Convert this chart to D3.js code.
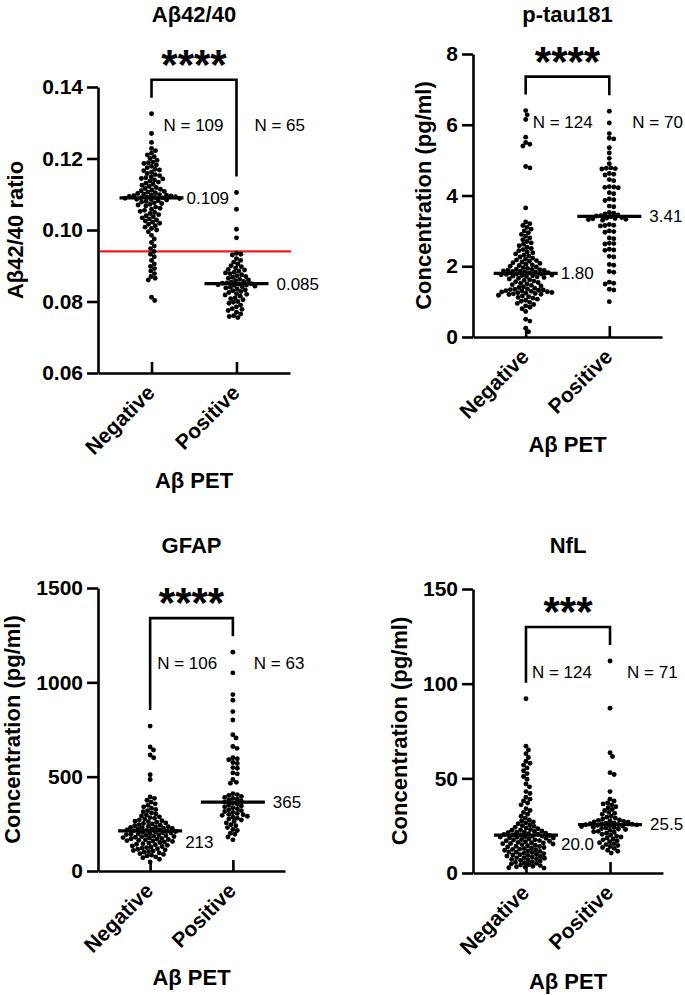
<!DOCTYPE html>
<html>
<head>
<meta charset="utf-8">
<script src="https://cdn.jsdelivr.net/npm/d3@7"></script>
<style>
  body { margin: 0; background: #fff; }
  text { font-family: "Liberation Sans", Arial, sans-serif; }
</style>
</head>
<body>
<svg id="main" width="685" height="995"></svg>
<script>
const categories = ["Negative", "Positive"];

// Aβ42/40 ratio
const abNeg = [0.1325, 0.127, 0.1245, 0.1228, 0.1222, 0.1215, 0.121, 0.1205, 0.12, 0.1195,
  0.119, 0.1188, 0.1186, 0.1182, 0.1178, 0.1174, 0.117, 0.1168, 0.1166, 0.1162,
  0.1158, 0.1155, 0.1152, 0.1149, 0.1146, 0.1144, 0.1143, 0.114, 0.1137, 0.1134,
  0.1131, 0.1128, 0.1125, 0.1122, 0.1119, 0.1116, 0.1114, 0.1112, 0.111, 0.1108,
  0.1106, 0.1104, 0.1102, 0.11, 0.1099, 0.1098, 0.1097, 0.1096, 0.1095, 0.1094,
  0.1093, 0.1092, 0.1091, 0.10905, 0.109,
  0.1089, 0.1088, 0.1086, 0.1085, 0.1084, 0.1082, 0.108, 0.1078, 0.1076, 0.1074,
  0.1072, 0.107, 0.1067, 0.1064, 0.1061, 0.1058, 0.1055, 0.1052, 0.1049, 0.1046,
  0.1043, 0.104, 0.1037, 0.1034, 0.1031, 0.1028, 0.1025, 0.1022, 0.1019, 0.1016,
  0.1012, 0.1008, 0.1004, 0.1, 0.0995, 0.0985, 0.0975, 0.0965, 0.0955, 0.0948,
  0.094, 0.0932, 0.0925, 0.0915, 0.0905, 0.0898, 0.0892, 0.0885, 0.0878, 0.087,
  0.0865, 0.086, 0.0812, 0.0803];
const abPos = [0.1105, 0.1058, 0.1002, 0.0978, 0.0935, 0.0932, 0.093, 0.092, 0.0915, 0.091,
  0.0905, 0.09, 0.0897, 0.0894, 0.089, 0.0888, 0.0885, 0.0882, 0.088, 0.0878,
  0.0875, 0.0872, 0.087, 0.0868, 0.0865, 0.0862, 0.086, 0.0858, 0.0856, 0.0854,
  0.0852, 0.0851, 0.085,
  0.0849, 0.0847, 0.0846, 0.0845, 0.0843, 0.0841, 0.084, 0.0838, 0.0835, 0.0832,
  0.083, 0.0828, 0.0825, 0.0822, 0.082, 0.0818, 0.0815, 0.081, 0.0808, 0.0805,
  0.08, 0.0798, 0.0795, 0.079, 0.0785, 0.078, 0.0778, 0.0775, 0.077, 0.0765,
  0.076, 0.0758, 0.0755];

// p-tau181 (pg/ml)
const ptauNeg = [6.4, 6.28, 6.15, 5.65, 5.5, 5.45, 5.4, 4.82, 4.78, 3.65,
  3.25, 3.2, 3.15, 3.1, 3.05, 3.0, 2.95, 2.9, 2.85, 2.8,
  2.75, 2.7, 2.66, 2.62, 2.58, 2.54, 2.5, 2.47, 2.44, 2.41,
  2.38, 2.35, 2.32, 2.29, 2.26, 2.23, 2.2, 2.18, 2.16, 2.14,
  2.12, 2.1, 2.08, 2.06, 2.04, 2.02, 2.0, 1.98, 1.96, 1.94,
  1.92, 1.91, 1.9, 1.89, 1.88, 1.87, 1.86, 1.85, 1.84, 1.83,
  1.82, 1.81,
  1.79, 1.78, 1.77, 1.76, 1.75, 1.74, 1.73, 1.72, 1.71, 1.7,
  1.68, 1.66, 1.64, 1.62, 1.6, 1.58, 1.56, 1.54, 1.52, 1.5,
  1.48, 1.46, 1.44, 1.42, 1.4, 1.38, 1.36, 1.35, 1.34, 1.33,
  1.32, 1.31, 1.3, 1.29, 1.28, 1.27, 1.26, 1.25, 1.24, 1.23,
  1.22, 1.21, 1.2, 1.18, 1.16, 1.14, 1.12, 1.1, 1.07, 1.04,
  1.01, 0.98, 0.95, 0.92, 0.88, 0.84, 0.8, 0.72, 0.5, 0.45,
  0.25, 0.15];
const ptauPos = [6.38, 6.05, 5.75, 5.62, 5.6, 5.35, 5.2, 5.05, 4.9, 4.78,
  4.77, 4.76, 4.75, 4.62, 4.6, 4.58, 4.45, 4.42, 4.25, 4.24,
  4.23, 4.22, 4.08, 4.05, 3.9, 3.88, 3.86, 3.7, 3.68, 3.52,
  3.5, 3.48, 3.45, 3.43, 3.42,
  3.4, 3.38, 3.36, 3.35, 3.34, 3.33, 3.32, 3.3, 3.18, 3.16,
  3.15, 3.14, 3.0, 2.98, 2.96, 2.8, 2.78, 2.65, 2.64, 2.63,
  2.48, 2.46, 2.45, 2.28, 2.26, 2.05, 2.03, 1.85, 1.83, 1.55,
  1.52, 1.5, 1.35, 1.33, 1.0];

// GFAP (pg/ml)
const gfapNeg = [768, 657, 641, 615, 600, 510, 485, 392, 385, 375,
  365, 356, 348, 340, 333, 326, 320, 314, 308, 302,
  297, 292, 287, 283, 279, 275, 271, 267, 264, 261,
  258, 255, 252, 249, 246, 243, 240, 237, 235, 233,
  231, 229, 227, 225, 223, 221, 219, 217, 215, 213,
  211, 209, 207, 205, 203, 201, 199, 197, 195, 193,
  191, 189, 187, 185, 183, 181, 179, 177, 175, 173,
  171, 169, 167, 165, 163, 161, 159, 157, 154, 151,
  148, 145, 142, 139, 136, 133, 130, 127, 124, 121,
  118, 115, 112, 109, 106, 103, 100, 96, 92, 88,
  84, 80, 75, 70, 62, 48];
const gfapPos = [1160, 1050, 935, 905, 845, 800, 722, 705, 660, 650,
  600, 595, 590, 575, 570, 548, 545, 520, 515, 485,
  470, 465, 410, 405, 400, 395, 390, 385, 380, 375, 370,
  365,
  360, 355, 350, 345, 340, 335, 330, 325, 320, 315,
  310, 305, 300, 298, 295, 290, 285, 280, 275, 270,
  262, 255, 245, 240, 230, 220, 215, 200, 195, 180, 165];

// NfL (pg/ml)
const nflNeg = [92, 67, 65, 63, 61, 59, 58, 57, 55.5, 54,
  52.5, 51, 49.5, 47, 45.5, 43, 42, 40, 39, 38,
  37, 36, 34, 33, 32, 31, 30, 29, 28, 27.5,
  27, 26.5, 26, 25.5, 25, 24.6, 24.2, 23.8, 23.4, 23,
  22.8, 22.6, 22.2, 21.9, 21.6, 21.5, 21.3, 21, 20.7, 20.5,
  20.4, 20.2, 20.1, 19.8, 19.5, 19.5, 19.2, 19, 18.9, 18.6,
  18.5, 18.3, 18, 17.7, 17.5, 17.4, 17.1, 17, 16.8, 16.5,
  16.2, 16, 15.9, 15.6, 15.5, 15.3, 15, 14.7, 14.4, 14.1,
  14, 13.8, 13.5, 13.2, 12.9, 12.6, 12.5, 12.3, 12, 11.7,
  11.4, 11.1, 11, 10.8, 10.5, 10.2, 9.9, 9.6, 9.5, 9.3,
  9, 8.7, 8.4, 8.1, 8, 7.8, 7.5, 7.2, 6.9, 6.6,
  6.3, 6, 5.7, 5.4, 5.1, 4.8, 4.5, 4.2, 3.9, 3.6,
  3.3, 3, 2.8, 2.6];
const nflPos = [112, 87, 63.5, 61.5, 53, 52, 43, 39, 38, 37,
  36.5, 36, 35, 34.5, 33.5, 33, 32, 31.5, 31, 30,
  29.5, 29, 28.5, 28, 27.8, 27.5, 27.2, 27, 26.8, 26.5,
  26.3, 26.1, 26, 25.8, 25.6,
  25.5,
  25.4, 25.2, 25, 24.8, 24.5, 24.2, 24, 23.8, 23.5, 23.2,
  23, 22.5, 22, 21.8, 21.5, 21, 20.5, 20, 19.5, 19,
  18.5, 18, 17.5, 17, 16.5, 16, 15.5, 15, 14.5, 14,
  13.5, 13, 12, 11.5, 10.5];

const titles = ["Aβ42/40", "p-tau181", "GFAP", "NfL"];
const yLabels = ["Aβ42/40 ratio", "Concentration (pg/ml)", "Concentration (pg/ml)", "Concentration (pg/ml)"];
const xTitle = "Aβ PET";
const yDomains = [[0.06, 0.14], [0, 8], [0, 1500], [0, 150]];
const yTicks = [[0.06, 0.08, 0.10, 0.12, 0.14], [0, 2, 4, 6, 8], [0, 500, 1000, 1500], [0, 50, 100, 150]];
const tickFormats = [".2f", "d", "d", "d"];
const medians = [[0.109, 0.085], [1.80, 3.41], [213, 365], [20.0, 25.5]];
const medianLabels = [["0.109", "0.085"], ["1.80", "3.41"], ["213", "365"], ["20.0", "25.5"]];
const nCounts = [[109, 65], [124, 70], [106, 63], [124, 71]];
const stars = ["****", "****", "****", "***"];
const cutoffs = [0.094, null, null, null];
const groups = [[abNeg, abPos], [ptauNeg, ptauPos], [gfapNeg, gfapPos], [nflNeg, nflPos]];

// layout of each panel (pixels)
const frames = [
  { left: 98, right: 290, top: 87, bottom: 373, titleY: 22, xTitleY: 488, yLabX: 23, nDx: [12, 18], medDy: [6, 6] },
  { left: 473, right: 662, top: 54, bottom: 337, titleY: 22, xTitleY: 452, yLabX: 431, nDx: [7, 23], medDy: [6, 6] },
  { left: 98, right: 285, top: 588, bottom: 871, titleY: 553, xTitleY: 985, yLabX: 20, nDx: [7, 21], medDy: [17, 6] },
  { left: 473, right: 663, top: 589, bottom: 873, titleY: 553, xTitleY: 989, yLabX: 407, nDx: [6, 17], medDy: [15, 5] }
];

const R = 2.45;
const GAP = 4.5; // centre distance between touching dots
const svg = d3.select("#main");

// simple beeswarm: place each dot as near the centre line as possible
function swarm(values, cx, y) {
  const pts = values.map(v => ({ v, y: y(v) })).sort((a, b) => a.y - b.y);
  const placed = [];
  pts.forEach(p => {
    const near = placed.filter(q => Math.abs(q.y - p.y) < GAP);
    const cands = [cx];
    near.forEach(q => {
      const dx = Math.sqrt(GAP * GAP - (q.y - p.y) ** 2);
      cands.push(q.x + dx + 0.01, q.x - dx - 0.01);
    });
    cands.sort((a, b) => Math.abs(a - cx) - Math.abs(b - cx));
    for (const c of cands) {
      if (near.every(q => (q.x - c) ** 2 + (q.y - p.y) ** 2 >= GAP * GAP - 0.01)) { p.x = c; break; }
    }
    placed.push(p);
  });
  return placed;
}

frames.forEach((f, i) => {
  const g = svg.append("g");
  const x = d3.scalePoint().domain(categories).range([f.left, f.right]).padding(0.63);
  const y = d3.scaleLinear().domain(yDomains[i]).range([f.bottom, f.top]);
  const mid = (f.left + f.right) / 2;

  // y axis
  const ya = g.append("g").attr("transform", `translate(${f.left},0)`)
    .call(d3.axisLeft(y).tickValues(yTicks[i]).tickFormat(d3.format(tickFormats[i]))
      .tickSize(11).tickSizeOuter(0).tickPadding(4));
  // x axis (ticks point up)
  const xa = g.append("g").attr("transform", `translate(0,${f.bottom})`)
    .call(d3.axisBottom(x).tickSize(-11).tickSizeOuter(0));
  [ya, xa].forEach(a => {
    a.select(".domain").attr("stroke", "#000").attr("stroke-width", 2.6);
    a.selectAll(".tick line").attr("stroke", "#000").attr("stroke-width", 2.6);
  });
  ya.selectAll(".tick text").attr("font-size", 21).attr("font-weight", "bold").attr("fill", "#000")
    .attr("font-family", "Liberation Sans, Arial, sans-serif");
  xa.selectAll(".tick text")
    .attr("font-size", 21).attr("font-weight", "bold").attr("fill", "#000")
    .attr("font-family", "Liberation Sans, Arial, sans-serif")
    .attr("text-anchor", "end").attr("dy", null).attr("y", null)
    .attr("transform", "translate(4,21) rotate(-45)");

  // cut-off line
  if (cutoffs[i] != null) {
    g.append("line").attr("x1", f.left + 2).attr("x2", f.right + 1)
      .attr("y1", y(cutoffs[i])).attr("y2", y(cutoffs[i]))
      .attr("stroke", "#ee1c1c").attr("stroke-width", 2.2);
  }

  // dots
  groups[i].forEach((vals, k) => {
    const pts = swarm(vals, x(categories[k]), y);
    g.append("g").selectAll("circle").data(pts).join("circle")
      .attr("cx", d => d.x).attr("cy", d => d.y).attr("r", R).attr("fill", "#000");
  });

  // median lines and labels
  medians[i].forEach((m, k) => {
    const cx = x(categories[k]);
    g.append("line").attr("x1", cx - 32).attr("x2", cx + 32)
      .attr("y1", y(m)).attr("y2", y(m)).attr("stroke", "#000").attr("stroke-width", 3.2);
    g.append("text").attr("x", cx + 35 + (k ? 5 : 0)).attr("y", y(m) + f.medDy[k])
      .attr("font-size", 17).text(medianLabels[i][k]);
  });

  // significance bracket
  const ends = groups[i].map(v => y(d3.max(v)) - 16);
  const topY = d3.min(ends) - 18;
  const xs = categories.map(c => x(c));
  g.append("path")
    .attr("d", `M${xs[0]},${ends[0]}V${topY}H${xs[1]}V${ends[1]}`)
    .attr("fill", "none").attr("stroke", "#000").attr("stroke-width", 2.6);
  g.append("text").attr("x", (xs[0] + xs[1]) / 2).attr("y", topY - 1)
    .attr("text-anchor", "middle").attr("font-size", 42).attr("font-weight", "bold")
    .text(stars[i]);

  // N labels
  nCounts[i].forEach((n, k) => {
    g.append("text").attr("x", xs[k] + f.nDx[k]).attr("y", topY + 51)
      .attr("font-size", 17).text(`N = ${n}`);
  });

  // titles
  g.append("text").attr("x", mid).attr("y", f.titleY).attr("text-anchor", "middle")
    .attr("font-size", 22).attr("font-weight", "bold").text(titles[i]);
  g.append("text").attr("x", mid).attr("y", f.xTitleY).attr("text-anchor", "middle")
    .attr("font-size", 22).attr("font-weight", "bold").text(xTitle);
  g.append("text").attr("transform", `translate(${f.yLabX},${(f.top + f.bottom) / 2}) rotate(-90)`)
    .attr("text-anchor", "middle").attr("font-size", 22).attr("font-weight", "bold")
    .text(yLabels[i]);
});
</script>
</body>
</html>
